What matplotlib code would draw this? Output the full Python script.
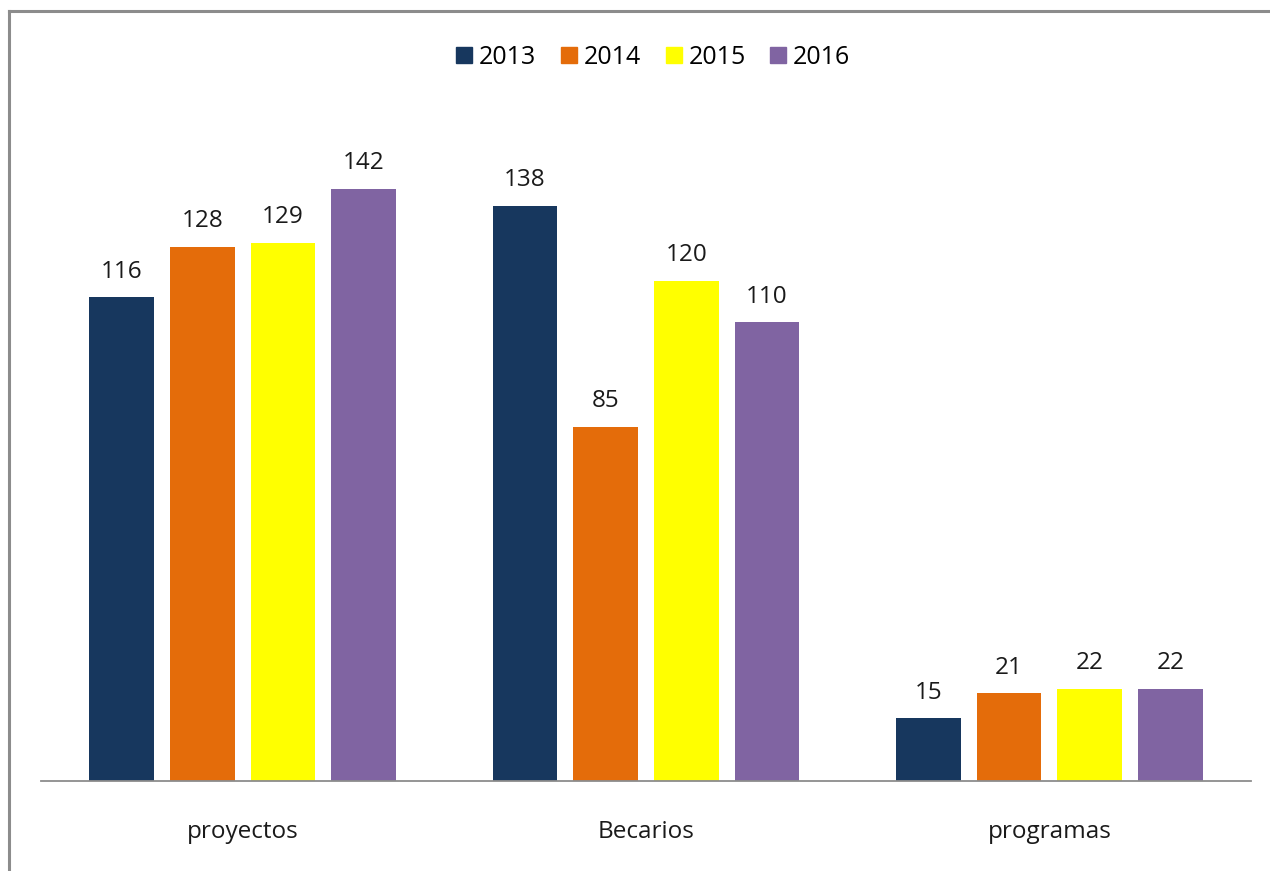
import matplotlib
matplotlib.use("Agg")
import matplotlib.pyplot as plt
from matplotlib.lines import Line2D
import numpy as np

categories = ["proyectos", "Becarios", "programas"]
years = ["2013", "2014", "2015", "2016"]
v2013 = [116, 138, 15]
v2014 = [128, 85, 21]
v2015 = [129, 120, 22]
v2016 = [142, 110, 22]
colors = ["#17375E", "#E46C0A", "#FFFF00", "#8064A2"]

plt.rcParams['font.family'] = ['Open Sans', 'DejaVu Sans']

W, H = 1270, 871
fig = plt.figure(figsize=(W / 100, H / 100), dpi=100)

left, right, top, bottom = 41, 1251, 100, 781
ax = fig.add_axes([left / W, 1 - bottom / H, (right - left) / W, (bottom - top) / H])
scale = 592 / 142.0
ax.set_ylim(0, (bottom - top) / scale)
ax.set_xlim(-0.5, 2.5)

x = np.arange(len(categories))
series = [v2013, v2014, v2015, v2016]
bw = 0.16
step = 0.2
for j, (vals, c, yr) in enumerate(zip(series, colors, years)):
    pos = x + (j - 1.5) * step
    bars = ax.bar(pos, vals, width=bw, color=c, label=yr, zorder=2)
    for b, v in zip(bars, vals):
        ax.annotate(str(v), (b.get_x() + b.get_width() / 2, v),
                    xytext=(0, 10), textcoords="offset points",
                    ha="center", va="bottom", fontsize=17.5, color="#1a1a1a")

for s in ["top", "right", "left"]:
    ax.spines[s].set_visible(False)
ax.spines["bottom"].set_color("#8c8c8c")
ax.spines["bottom"].set_linewidth(1.3)
ax.set_yticks([])
ax.set_xticks(x)
ax.set_xticklabels(categories, fontsize=17.5, color="#1a1a1a")
ax.tick_params(axis="x", length=0, pad=28)

handles = [Line2D([0], [0], marker="s", linestyle="none", markersize=12,
                  markerfacecolor=c, markeredgecolor=c) for c in colors]
fig.legend(handles, years, loc="center", bbox_to_anchor=(651 / W, 1 - 57 / H),
           ncol=4, frameon=False, fontsize=18, handletextpad=0.1,
           columnspacing=0.8, handlelength=1.0)

fig.add_artist(Line2D([8.5 / W, 8.5 / W], [0, 1 - 11 / H], color="#8c8c8c", lw=2.2,
                      transform=fig.transFigure))
fig.add_artist(Line2D([8.5 / W, 1], [1 - 11 / H, 1 - 11 / H], color="#8c8c8c", lw=2.2,
                      transform=fig.transFigure))

fig.savefig("out.png", dpi=100)
